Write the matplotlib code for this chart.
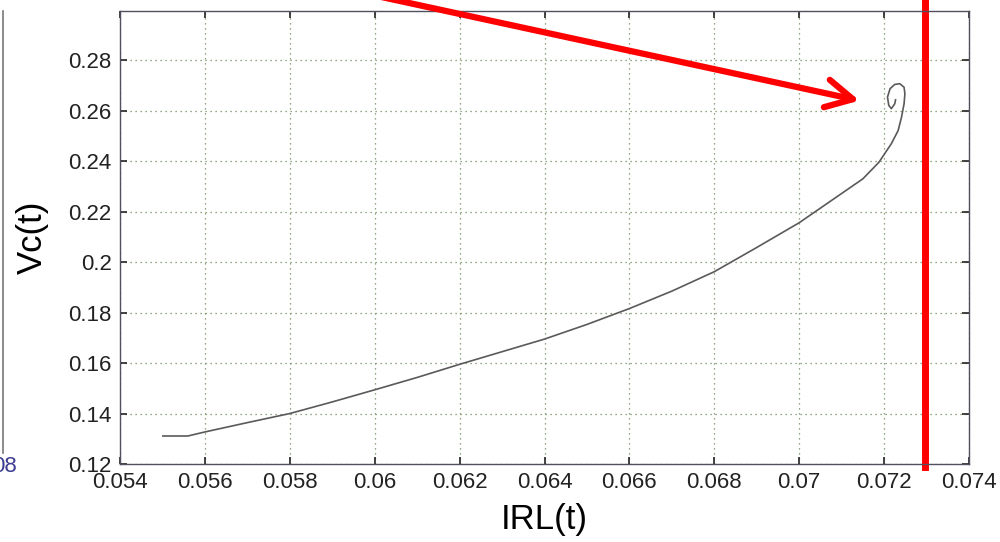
import numpy as np
import matplotlib
matplotlib.use('Agg')
import matplotlib.pyplot as plt
from matplotlib.lines import Line2D

plt.rcParams['font.family'] = ['Liberation Sans', 'DejaVu Sans']

# phase-plane trajectory
irl = [0.05501, 0.0556, 0.0560, 0.0570, 0.0580, 0.0590, 0.0600, 0.0610, 0.0620,
       0.0630, 0.0640, 0.0650, 0.0660, 0.0670, 0.0680, 0.0690, 0.0700, 0.0710,
       0.0715, 0.07188, 0.07217, 0.07233, 0.07241, 0.07247, 0.07249, 0.07247,
       0.07237, 0.07225, 0.07214, 0.07208, 0.07211, 0.07217, 0.07225, 0.07227]
vc = [0.1311, 0.1311, 0.1327, 0.1364, 0.1400, 0.1446, 0.1494, 0.1543, 0.1595,
      0.1645, 0.1695, 0.1753, 0.1816, 0.1885, 0.1962, 0.2058, 0.2156, 0.2272,
      0.2330, 0.2396, 0.2469, 0.2521, 0.2574, 0.2627, 0.2667, 0.2693,
      0.2707, 0.2704, 0.2687, 0.2654, 0.2621, 0.2608, 0.2627, 0.2643]

x_ticks = [0.054, 0.056, 0.058, 0.06, 0.062, 0.064, 0.066, 0.068, 0.07, 0.072, 0.074]
y_ticks = [0.12, 0.14, 0.16, 0.18, 0.2, 0.22, 0.24, 0.26, 0.28]

red_line_x = 0.07297
arrow_tip = (0.07142, 0.264)
arrow_tail = (0.0588, 0.31)

fig = plt.figure(figsize=(10, 5.42), dpi=100)
ax = fig.add_axes([0.12, 0.1439, 0.849, 0.8358])

ax.plot(irl, vc, color='#5a5a5a', linewidth=1.2)

ax.set_xlim(0.054, 0.074)
ax.set_ylim(0.12, 0.2995)
ax.set_xticks(x_ticks)
ax.set_yticks(y_ticks)
ax.set_xticklabels(['%g' % v for v in x_ticks])
ax.set_yticklabels(['%g' % v for v in y_ticks])

ax.grid(True, linestyle=(0, (1, 3)), color='#6f8a5f', linewidth=0.9)
ax.tick_params(direction='in', length=5, width=1.2, labelsize=16, colors='#222222',
               top=True, right=True, pad=6)
for s in ax.spines.values():
    s.set_color('#505060')
    s.set_linewidth(1.0)

ax.set_xlabel('IRL(t)', fontsize=25)
ax.set_ylabel('Vc(t)', fontsize=25)
ax.xaxis.set_label_coords(0.5, -0.085)
ax.yaxis.set_label_coords(-0.084, 0.5)

# red marker line and arrow
ax.axvline(red_line_x, ymin=-0.006, ymax=1.03, color='red', linewidth=5, clip_on=False)
ax.annotate('', xy=arrow_tip, xytext=arrow_tail, annotation_clip=False,
            arrowprops=dict(arrowstyle='->,head_length=0.8,head_width=0.42',
                            color='red', lw=4.5, mutation_scale=24,
                            shrinkA=0, shrinkB=0))

# fragment of a neighbouring plot at the left edge
fig.add_artist(Line2D([0.003, 0.003], [1 - 11 / 542, 1 - 453 / 542],
                      transform=fig.transFigure, color='#777777', linewidth=1.2))
fig.text(0.017, 1 - 466 / 542, '08', ha='right', va='center', fontsize=16,
         color='#3b3b8f')

fig.savefig('out.png', dpi=100)
